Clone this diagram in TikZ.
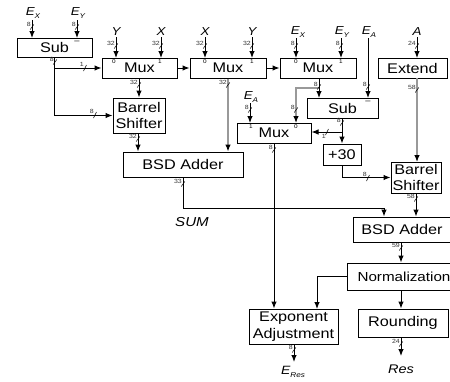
\documentclass[tikz,border=0pt]{standalone}
\usepackage{fontspec}
\setmainfont[FakeStretch=1.16]{Liberation Sans}
\usetikzlibrary{arrows.meta}
\newcommand\sig[2]{\textit{#1}\raisebox{-2.5pt}{\fontsize{7}{7}\selectfont\textit{#2}}}
% bus width marker on a vertical wire
\newcommand\busv[4]{%
  \draw[line width=0.5pt] (#2-1.8,#3+2.5) -- (#2+1.8,#3-2.5);
  \node[bw, anchor=south east] (#1) at (#2-1,#3-0.5) {#4};}
% bus width marker on a horizontal wire
\newcommand\bush[4]{%
  \draw[line width=0.5pt] (#2-1.5,#3+3) -- (#2+1.5,#3-3);
  \node[bw, anchor=south east] (#1) at (#2-1,#3-1) {#4};}
\begin{document}
\begin{tikzpicture}[x=1pt,y=-1pt,
  box/.style={draw, line width=1pt, inner sep=0pt, align=center,
    font=\fontsize{14}{16.5}\selectfont},
  inlab/.style={inner sep=1pt, font=\fontsize{11.5}{12}\selectfont\itshape},
  bw/.style={inner sep=0pt, font=\fontsize{6}{6}\selectfont, text=black!80},
  io/.style={inner sep=0pt, font=\fontsize{5.5}{6}\selectfont},
  wire/.style={line width=1pt},
  arr/.style={wire, -{Latex[length=7pt,width=5.5pt]}},
  gwire/.style={line width=1.2pt, draw=black!40},
  garr/.style={gwire, -{Latex[length=7pt,width=5.5pt,color=black]}}]
\useasboundingbox (0,0) rectangle (450,381);
\clip (0,0) rectangle (450,381);

% ---------- boxes ----------
\node[box, minimum width=75pt, minimum height=19pt] (sub1) at (54.5,47.5) {Sub};
\node[box, minimum width=75pt, minimum height=20pt] (mux1) at (139.5,68) {Mux};
\node[box, minimum width=76pt, minimum height=20pt] (mux2) at (228,68) {Mux};
\node[box, minimum width=76pt, minimum height=20pt] (mux3) at (318,68) {Mux};
\node[box, minimum width=69pt, minimum height=20pt] (ext) at (412.5,68) {Extend};
\node[box, minimum width=52pt, minimum height=35pt] (bs1) at (139,115.5) {Barrel\\Shifter};
\node[box, minimum width=71pt, minimum height=20pt] (sub2) at (342.5,108) {Sub};
\node[box, minimum width=74pt, minimum height=20pt] (mux4) at (274,133) {Mux};
\node[box, minimum width=38pt, minimum height=21pt] (p30) at (342,154.5) {+30};
\node[box, minimum width=120pt, minimum height=25pt] (bsd1) at (183,164.5) {BSD Adder};
\node[box, minimum width=50pt, minimum height=31pt] (bs2) at (416,177.5) {Barrel\\Shifter};
\node[box, minimum width=98pt, minimum height=25pt] (bsd2) at (402,229.5) {BSD Adder};
\node[box, minimum width=114pt, minimum height=27pt, font=\fontsize{13.1}{16}\selectfont] (norm) at (404,276.5) {Normalization};
\node[box, minimum width=90pt, minimum height=28pt] (round) at (403,323) {Rounding};
\node[box, minimum width=89pt, minimum height=35pt] (eadj) at (293.5,326.5) {Exponent\\Adjustment};

% ---------- subtract marks and mux input numbers ----------
\node[io, font=\fontsize{8}{8}\selectfont] (m1) at (77,42) {--};
\node[io, font=\fontsize{8}{8}\selectfont] (m2) at (368,102) {--};
\node[io] (i10) at (114,62) {0}; \node[io] (i11) at (160,62) {1};
\node[io] (i20) at (205,62) {0}; \node[io] (i21) at (252,62) {1};
\node[io] (i30) at (296,62) {0}; \node[io] (i31) at (341,62) {1};
\node[io] (i41) at (251,127) {1}; \node[io] (i40) at (296,127) {0};

% ---------- input labels ----------
\node[inlab] (ex1) at (33,13) {\sig{E}{X}};
\node[inlab] (ey1) at (78,13) {\sig{E}{Y}};
\node[inlab] (y1) at (116,32) {Y};
\node[inlab] (x1) at (161,32) {X};
\node[inlab] (x2) at (205,32) {X};
\node[inlab] (y2) at (252,32) {Y};
\node[inlab] (ex2) at (298,32) {\sig{E}{X}};
\node[inlab] (ey2) at (342,32) {\sig{E}{Y}};
\node[inlab] (ea1) at (369,32) {\sig{E}{A}};
\node[inlab] (a) at (417,32) {A};
\node[inlab] (ea2) at (251,97) {\sig{E}{A}};

% ---------- input wires ----------
\draw[arr] (32,20) -- (32,38);
\draw[arr] (77,20) -- (77,38);
\draw[arr] (y1.south -| 116,0) -- (116,58);
\draw[arr] (x1.south -| 161,0) -- (161,58);
\draw[arr] (x2.south -| 205,0) -- (205,58);
\draw[arr] (y2.south -| 252,0) -- (252,58);
\draw[arr] (ex2.south -| 296,0) -- (296,58);
\draw[arr] (ey2.south -| 341,0) -- (341,58);
\draw[arr] (ea1.south -| 368,0) -- (368,98);
\draw[arr] (a.south -| 417,0) -- (417,58);
\draw[arr] (ea2.south -| 250,0) -- (250,123);

% ---------- internal wires ----------
\draw[arr] (sub1.south) |- (bs1.west);
\draw[arr] (sub1.south |- mux1.west) -- (mux1.west);
\draw[arr] (mux1.east) -- (mux2.west);
\draw[arr] (mux2.east) -- (mux3.west);
\draw[arr] (mux1.south -| 139,0) -- (bs1.north -| 139,0);
\draw[garr] (mux2.south) -- (bsd1.north -| mux2.south);
\draw[arr] (319,78) -- (319,98);
\draw[garr] (319,88) -- (296,88) -- (296,123);
\draw[arr] (sub2.south -| 342,0) -- (p30.north);
\draw[arr] (342,132) -- (mux4.east |- 0,132);
\draw[arr] (p30.south) |- (bs2.west);
\draw[garr] (417,78) -- (417,162);
\draw[arr] (bs1.south -| 138,0) -- (bsd1.north -| 138,0);
\draw[arr] (bs2.south) -- (bsd2.north -| bs2.south);
\draw[arr] (bsd1.south) |- (384,208) -- (bsd2.north -| 384,0);
\draw[arr] (mux4.south) -- (eadj.north -| mux4.south);
\draw[arr] (bsd2.south -| 401,0) -- (norm.north -| 401,0);
\draw[arr] (norm.south -| 401,0) -- (round.north -| 401,0);
\draw[arr] (norm.west) -| (317,309);

% ---------- outputs ----------
\node[inlab, font=\fontsize{13}{14}\selectfont\itshape] (sum) at (192,222) {SUM};
\node[inlab, font=\fontsize{12.5}{14}\selectfont\itshape] (res) at (401,369) {Res};
\node[inlab, font=\fontsize{12}{13}\selectfont\itshape] (eres) at (293,372) {\sig{E}{Res}};
\draw[arr] (eadj.south -| 294,0) -- (294,362);
\draw[arr] (round.south -| 401,0) -- (401,356);

% ---------- bus widths ----------
\busv{w1}{32}{27}{8}
\busv{w2}{77}{27}{8}
\busv{w3}{55}{62}{8}
\busv{w4}{116}{46}{32}
\busv{w5}{161}{46}{32}
\busv{w6}{205}{46}{32}
\busv{w7}{252}{46}{32}
\busv{w8}{296}{46}{8}
\busv{w9}{341}{46}{8}
\busv{w10}{417}{46}{24}
\busv{w11}{368}{87}{8}
\busv{w12}{139}{85}{32}
\busv{w13}{228}{85}{32}
\busv{w14}{319}{87}{8}
\busv{w15}{296}{110}{8}
\busv{w16}{250}{110}{8}
\busv{w17}{342}{123}{8}
\busv{w18}{274}{150}{8}
\busv{w19}{417}{90}{58}
\busv{w20}{138}{139}{32}
\busv{w21}{416}{199}{58}
\busv{w22}{183}{184}{33}
\busv{w23}{401}{248}{59}
\busv{w24}{401}{344}{24}
\busv{w25}{294}{350}{8}
\bush{w26}{85}{68}{1}
\bush{w27}{95}{115}{8}
\bush{w28}{368}{178}{8}
\draw[line width=0.5pt] (325.5,135) -- (328.5,129);
\node[bw, anchor=north east] (w29) at (326,134) {1};
\end{tikzpicture}
\end{document}
